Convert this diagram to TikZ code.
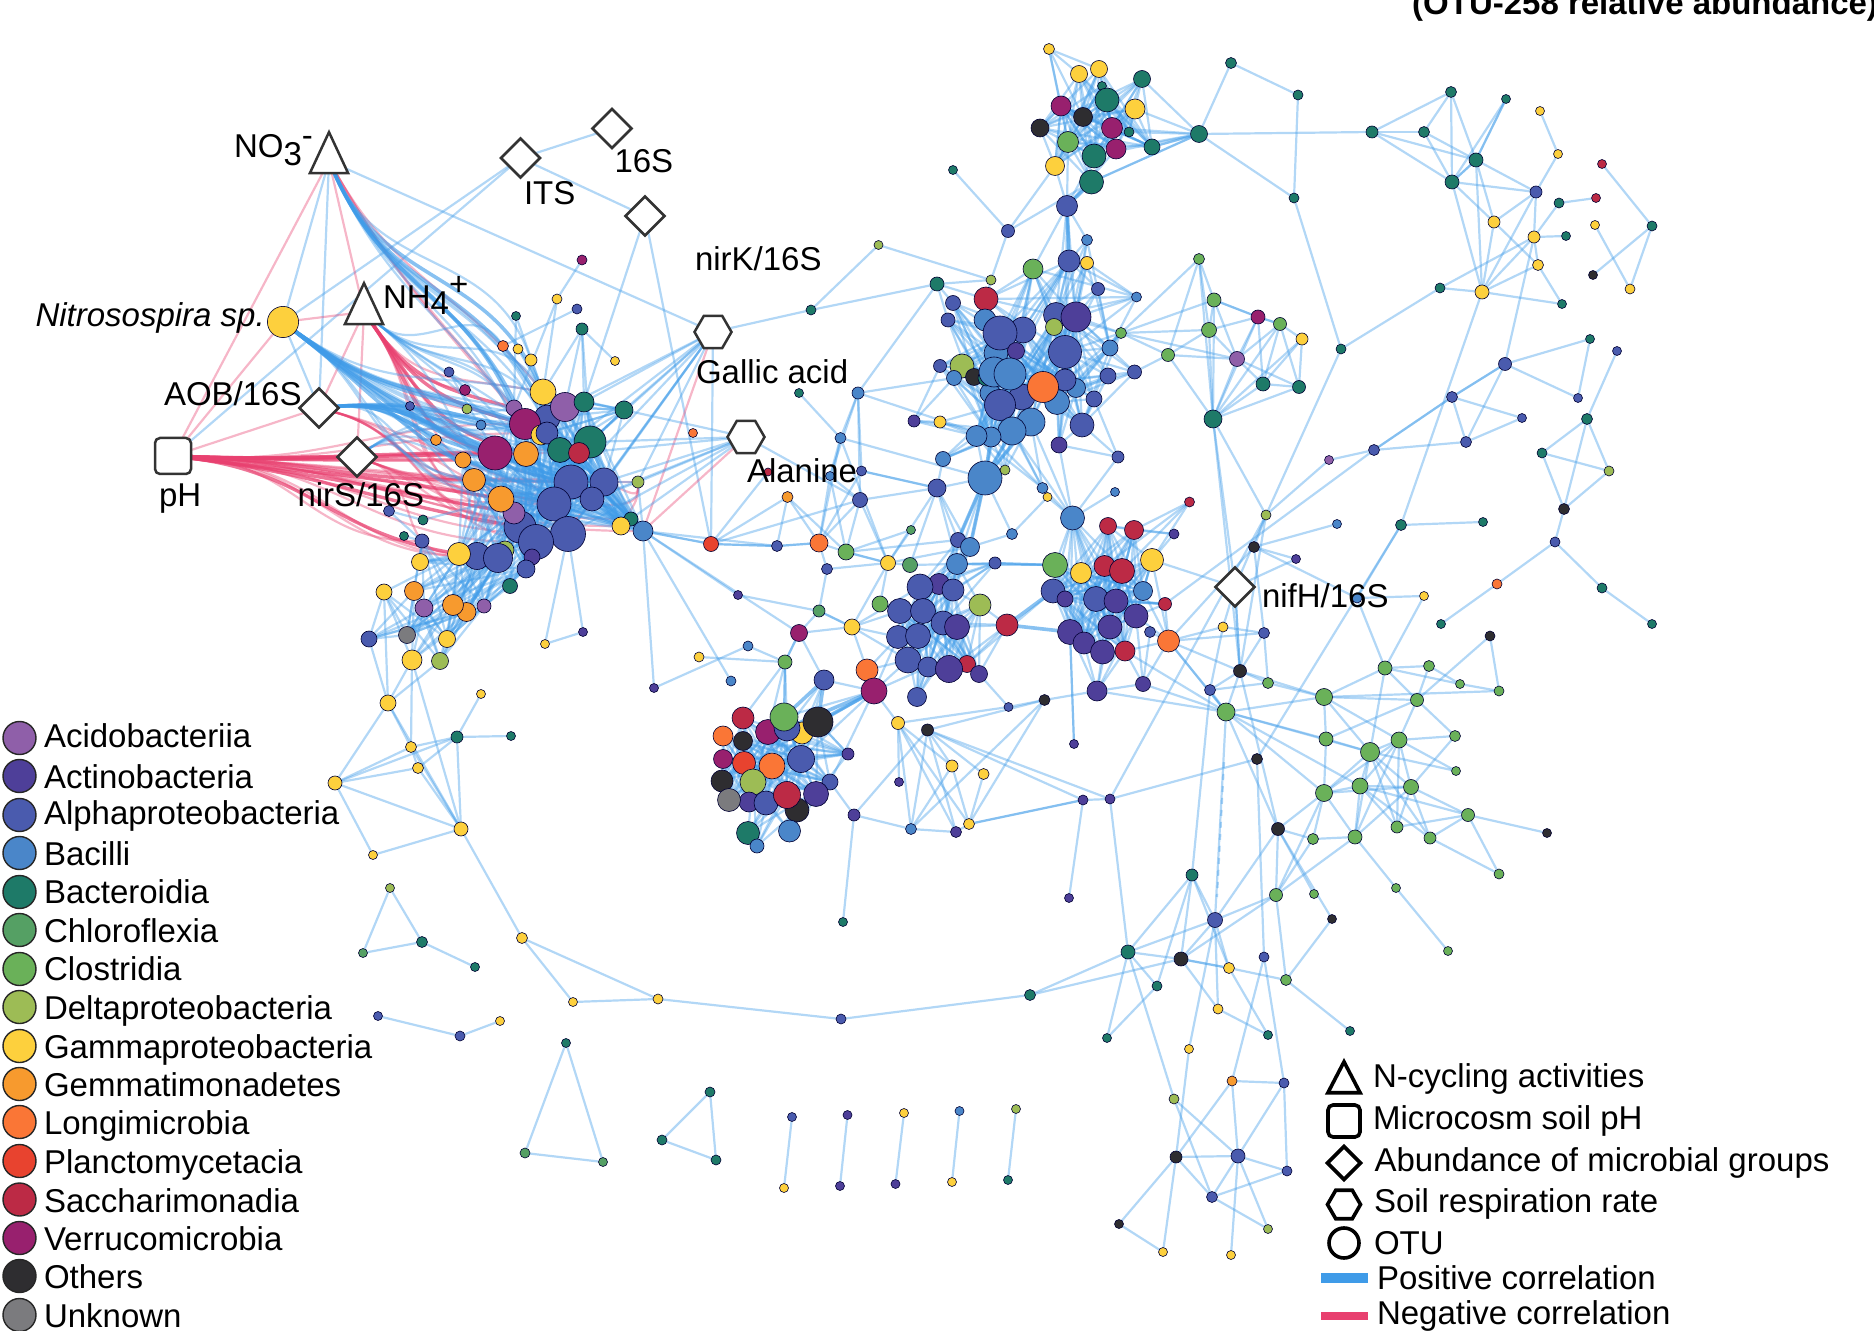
\documentclass[tikz,border=0pt]{standalone}
\usepackage{fontspec}
\setmainfont{Liberation Sans}
\usetikzlibrary{shapes.geometric,backgrounds}
\definecolor{cAc}{HTML}{8F5FA9}\definecolor{cAt}{HTML}{4E3F99}\definecolor{cAl}{HTML}{4A5BAE}
\definecolor{cBa}{HTML}{4A86C9}\definecolor{cBd}{HTML}{1E7A68}\definecolor{cCh}{HTML}{55A064}
\definecolor{cCl}{HTML}{6AB159}\definecolor{cDe}{HTML}{9DBC55}\definecolor{cGa}{HTML}{FDD03D}
\definecolor{cGe}{HTML}{F79A2E}\definecolor{cLo}{HTML}{FA7636}\definecolor{cPl}{HTML}{E8432F}
\definecolor{cSa}{HTML}{BC2A45}\definecolor{cVe}{HTML}{98206E}\definecolor{cOt}{HTML}{2E2D30}
\definecolor{cUn}{HTML}{7B7B7E}\definecolor{edgeP}{HTML}{3F9BE8}\definecolor{edgeN}{HTML}{E8406F}
\definecolor{dk}{HTML}{333333}
\tikzset{
 otu/.style={circle,draw=black!80!blue,line width=.3pt,inner sep=0pt,outer sep=0pt},
 ePos/.style={draw=edgeP,opacity=.4,line width=1.1pt},
 ePosT/.style={draw=edgeP,opacity=.62,line width=1.8pt},
 eNeg/.style={draw=edgeN,opacity=.38,line width=1.1pt},
 eNegT/.style={draw=edgeN,opacity=.72,line width=1.7pt},
 txt/.style={inner sep=0pt,outer sep=0pt,anchor=base west,font=\fontsize{16.5}{18}\selectfont},
 fac/.style={draw=dk,line width=1.25pt,fill=white,inner sep=0pt,outer sep=0pt},
 tria/.style={fac,isosceles triangle,isosceles triangle apex angle=50,shape border rotate=90,minimum height=20.5pt},
 dia/.style={fac,diamond,aspect=1,minimum size=19.5pt},
 hexa/.style={fac,regular polygon,regular polygon sides=6,minimum size=18.5pt},
 sqr/.style={fac,rectangle,rounded corners=2.5pt,minimum size=18pt},
 key/.style={line width=1.8pt,draw=black,fill=white,inner sep=0pt,outer sep=0pt},
 leg/.style={circle,draw=black!85,line width=.7pt,minimum size=16.5pt,inner sep=0pt},
}
\def\Nod#1#2#3#4#5{\node[otu,fill=c#5,minimum size=#4pt] (#1) at (#2,-#3) {};}
\def\Edg#1{\foreach \p/\q in {#1}{\draw[ePos] (\p)--(\q);}}
\def\Sta#1#2{\foreach \q in {#2}{\draw[ePos] (#1)--(\q);}}
\def\StT#1#2{\foreach \q in {#2}{\draw[ePosT] (#1)--(\q);}}
\def\Bip#1#2{\foreach \p in {#1}{\foreach \q in {#2}{\draw[ePos] (\p)--(\q);}}}
\def\Cur#1#2#3#4#5{\foreach \q in {#5}{\draw[#1] (#2) to[out=#3,in=#4,looseness=1.1] (\q);}}
\begin{document}
\begin{tikzpicture}[x=.5pt,y=.5pt]
\useasboundingbox (0,0) rectangle (1874,-1331);
% ---------- left cluster
\Nod{c1}{582}{260}{5}{Ve}\Nod{c2}{557}{299}{5}{Ga}\Nod{c3}{577}{309}{5}{Al}\Nod{c4}{516}{316}{4.5}{Bd}\Nod{c5}{582}{329}{6}{Bd}
\Nod{c6}{449}{372}{5}{Al}\Nod{c7}{410}{406}{4.5}{Al}\Nod{c8}{436}{440}{5.5}{Ge}\Nod{c9}{693}{433}{4.5}{Lo}\Nod{c10}{545}{644}{4.5}{Ga}\Nod{c11}{583}{632}{4.5}{At}
\Nod{a1}{503}{346}{5.5}{Lo}\Nod{a2}{518}{349}{5}{Ga}\Nod{a3}{531}{360}{6}{Ga}\Nod{a4}{615}{361}{4.5}{Ga}
\Nod{a5}{543}{392}{13}{Ga}\Nod{a6}{514}{408}{8}{Ac}\Nod{a7}{547}{418}{13}{Al}\Nod{a8}{565}{407}{14.5}{Ac}\Nod{a9}{584}{402}{10}{Bd}\Nod{a10}{624}{410}{9}{Bd}
\Nod{a11}{465}{390}{5.5}{Ve}\Nod{a12}{467}{409}{5}{De}\Nod{a13}{481}{425}{5}{Ba}\Nod{a14}{525}{424}{15.5}{Ve}
\Nod{a15}{541}{435}{10}{Ga}\Nod{a16}{547}{433}{11}{Al}\Nod{a17}{590}{442}{16}{Bd}\Nod{a18}{560}{450}{12.5}{Bd}\Nod{a19}{579}{453}{10.5}{Sa}
\Nod{a20}{526}{454}{12.5}{Ge}\Nod{a21}{495}{453}{17}{Ve}\Nod{a22}{463}{460}{8}{Ge}\Nod{a23}{474}{480}{11.5}{Ge}
\Nod{a30}{520}{527}{16}{Al}\Nod{a24}{514}{513}{11}{Ac}\Nod{a25}{501}{499}{13}{Ge}
\Nod{a26}{571}{482}{17}{Al}\Nod{a27}{604}{482}{14}{Al}\Nod{a28}{592}{499}{12}{Al}\Nod{a29}{554}{504}{17}{Al}
\Nod{a31}{568}{534}{17.5}{Al}\Nod{a32}{536}{542}{17.5}{Al}\Nod{a33}{638}{482}{6}{De}\Nod{a34}{631}{519}{7}{Bd}\Nod{a35}{621}{526}{9}{Ga}\Nod{a36}{643}{531}{10}{Ba}
\Nod{b22}{389}{511}{5.5}{Al}\Nod{b21}{423}{520}{5}{Bd}\Nod{b20}{404}{536}{4.5}{Bd}\Nod{b19}{422}{541}{7}{Al}\Nod{b23}{420}{562}{8.5}{Ga}
\Nod{b2}{477}{556}{13.5}{Al}\Nod{b1}{459}{554}{11.5}{Ga}\Nod{b3}{505}{550}{9}{De}\Nod{b4}{532}{557}{8}{At}\Nod{b5}{498}{558}{14.5}{Al}\Nod{b6}{526}{569}{9}{Al}\Nod{b7}{510}{586}{7.5}{Bd}
\Nod{b8}{384}{592}{8}{Ga}\Nod{b9}{414}{591}{9.5}{Ge}\Nod{b10}{424}{608}{9}{Ac}\Nod{b11}{466.5}{612}{9.5}{Ge}\Nod{b12}{453}{605}{10.5}{Ge}\Nod{b13}{484}{606}{7}{Ac}
\Nod{b14}{369}{639}{8}{Al}\Nod{b15}{407}{635}{8.5}{Un}\Nod{b16}{447}{639}{8.5}{Ga}\Nod{b17}{412}{660}{10}{Ga}\Nod{b18}{440}{661}{8.5}{De}
% ---------- lower left pieces
\Nod{e1}{388}{703}{8}{Ga}\Nod{e2}{481}{694}{4.5}{Ga}\Nod{e3}{457}{737}{6}{Bd}\Nod{e4}{511}{736}{4.5}{Bd}\Nod{e5}{411}{747}{5.5}{Ga}\Nod{e6}{418}{768}{5.5}{Ga}
\Nod{e7}{335}{783}{7}{Ga}\Nod{e8}{461}{829}{7}{Ga}\Nod{e9}{373}{855}{4.5}{Ga}\Nod{e10}{390}{888}{4.5}{De}\Nod{e11}{363}{953}{4.5}{Ch}\Nod{e12}{422}{942}{5.5}{Bd}\Nod{e13}{475}{967}{4.5}{Bd}
\Nod{e14}{522}{938}{5.5}{Ga}\Nod{e15}{573}{1002}{4.5}{Ga}\Nod{e16}{658}{999}{5}{Ga}\Nod{e17}{841}{1019}{5}{Al}\Nod{e18}{1030}{995}{5.5}{Bd}
\Nod{e19}{378}{1016}{4.5}{Al}\Nod{e20}{460}{1036}{5}{Al}\Nod{e21}{500}{1021}{4.5}{Ga}
\Nod{e22}{566}{1043}{4.5}{Bd}\Nod{e23}{525}{1153}{5}{Ch}\Nod{e24}{603}{1162}{4.5}{Ch}\Nod{e25}{710}{1092}{5}{Bd}\Nod{e26}{662}{1140}{5}{Bd}\Nod{e27}{716}{1160}{5}{Bd}
\Nod{pa1}{792}{1117}{4.5}{Al}\Nod{pa2}{784}{1188}{4.5}{Ga}\Nod{pb1}{847.5}{1115}{4.5}{At}\Nod{pb2}{840}{1186}{4.5}{At}\Nod{pc1}{904}{1113}{4.5}{Ga}\Nod{pc2}{895.5}{1184}{4.5}{At}
\Nod{pd1}{959.5}{1111}{4.5}{Ba}\Nod{pd2}{952}{1182}{4.5}{Ga}\Nod{pe1}{1016}{1109}{4.5}{De}\Nod{pe2}{1008}{1180}{4.5}{Bd}
% ---------- top cluster
\Nod{d1}{1049}{49}{5.5}{Ga}\Nod{d2}{1079}{74}{8.5}{Ga}\Nod{d3}{1099}{69}{8.5}{Ga}\Nod{d4}{1142}{79}{8.5}{Bd}\Nod{d5}{1102}{86}{4.5}{Bd}\Nod{d6}{1107}{100}{12}{Bd}
\Nod{d7}{1135}{109}{10}{Ga}\Nod{d8}{1061}{106}{10}{Ve}\Nod{d9}{1083}{117}{9.5}{Ot}\Nod{d10}{1040}{128}{9}{Ot}\Nod{d11}{1112}{128}{10.5}{Ve}\Nod{d12}{1129}{132}{5}{Bd}
\Nod{d13}{1068}{142}{10.5}{Cl}\Nod{d14}{1199}{134}{8.5}{Bd}\Nod{d15}{1152}{147}{8}{Bd}\Nod{d16}{1116}{149}{10}{Ve}\Nod{d17}{1094}{156}{12}{Bd}\Nod{d18}{1055}{166}{9.5}{Ga}\Nod{d19}{1091.5}{182}{12}{Bd}\Nod{d20}{1067}{206}{10.5}{Al}
% ---------- blue cluster
\Nod{j1}{878.5}{245}{4.5}{De}\Nod{j2}{991}{280}{5}{De}\Nod{j3}{937}{284}{7}{Bd}\Nod{j4}{811}{310}{5}{Bd}\Nod{j5}{953}{170}{4.5}{Bd}\Nod{j6}{1008}{231}{6.5}{Al}\Nod{j7}{1087}{240}{5.5}{Ba}
\Nod{j8}{1069}{261}{11}{Al}\Nod{j9}{1087}{263}{6.5}{Ga}\Nod{j10}{1033}{269}{10}{Cl}\Nod{j11}{1098}{289}{6.5}{Al}\Nod{j12}{986}{299}{12}{Sa}\Nod{j13}{953}{303}{7.5}{Al}\Nod{j14}{1136.5}{297}{5}{Ba}\Nod{j15}{948}{320}{7}{Al}
\Nod{j44}{990}{393}{10}{Ba}\Nod{j16}{985}{320}{11}{Ba}\Nod{j24}{996}{353}{12}{Ba}\Nod{j17}{1056}{315}{12.5}{Al}\Nod{j18}{1076}{317}{15}{At}\Nod{j21}{1054}{327}{8.5}{De}\Nod{j20}{1023}{330}{13}{Al}\Nod{j19}{1000}{333}{17}{Al}\Nod{j22}{1016}{351}{8.5}{At}\Nod{j23}{1065}{352}{16.5}{Al}
\Nod{j25}{1110}{348}{8}{Ba}\Nod{j26}{1121}{333}{5.5}{Cl}\Nod{j27}{1168}{355}{6.5}{Cl}\Nod{j28}{962}{366}{12}{De}\Nod{j29}{940}{366}{6.5}{Al}\Nod{j30}{954}{378}{7.5}{Ba}\Nod{j31}{974}{377}{8.5}{Ot}\Nod{j32}{986}{378}{8}{Bd}
\Nod{j36}{1076}{388}{9.5}{Ba}\Nod{j35}{1065}{380}{11}{Al}\Nod{j43}{1057}{402}{12.5}{Ba}\Nod{j42}{1022}{397}{13}{Al}\Nod{j33}{994}{372}{15}{Ba}\Nod{j34}{1010}{374}{16}{Ba}\Nod{j37}{1108}{376}{8}{Al}\Nod{j38}{1134.5}{372}{7}{Al}\Nod{j40}{1094}{399}{8}{Al}\Nod{j41}{1000}{405}{15.5}{Al}\Nod{j39}{1043}{387}{15.5}{Lo}
\Nod{j45}{1031}{422}{14}{Ba}\Nod{j46}{1012}{431}{14}{Ba}\Nod{j47}{991}{437}{10}{Ba}\Nod{j48}{976.5}{436}{10.5}{Ba}\Nod{j49}{1082}{425}{12}{Al}\Nod{j50}{1059}{445}{8}{At}\Nod{j51}{914}{421}{6}{At}\Nod{j52}{940}{422}{6}{Ga}
\Nod{j53}{799}{393}{4.5}{Bd}\Nod{j54}{858}{393}{6}{Ba}\Nod{j55}{840.5}{438}{5.5}{Ba}\Nod{j56}{1118}{457}{6}{Al}\Nod{j57}{943}{459}{7.5}{Ba}\Nod{j58}{985}{478}{17}{Ba}\Nod{j59}{1005}{470}{5}{De}\Nod{j60}{1042.5}{488}{5.5}{Ba}\Nod{j61}{1047.5}{497}{4.5}{Ga}\Nod{j62}{1115}{492}{4.5}{Ba}
% ---------- green upper cluster
\Nod{p1}{1199}{259}{5.5}{Cl}\Nod{p2}{1214}{300}{7}{Cl}\Nod{p3}{1258}{317}{7}{Ve}\Nod{p4}{1280}{324}{6.5}{Cl}\Nod{p5}{1302}{339}{6}{Ga}\Nod{p6}{1209}{330}{7.5}{Cl}\Nod{p7}{1237}{359}{7.5}{Ac}\Nod{p8}{1263}{384}{7}{Bd}\Nod{p9}{1299}{387}{6.5}{Bd}\Nod{p10}{1213}{419}{9}{Bd}
% ---------- top right
\Nod{y1}{1231}{63}{5.5}{Bd}\Nod{y2}{1298}{95}{5}{Bd}\Nod{y3}{1294}{198}{5}{Bd}\Nod{y4}{1341}{349}{5}{Bd}
\Nod{f1}{1372}{132}{6}{Bd}\Nod{f2}{1424}{132}{5.5}{Bd}\Nod{f3}{1451}{92}{5.5}{Bd}\Nod{f4}{1506}{99}{4.5}{Bd}\Nod{f5}{1540}{111}{4.5}{Ga}\Nod{f6}{1558}{154}{4.5}{Ga}\Nod{f7}{1476}{160}{7}{Bd}\Nod{f8}{1602}{164}{4.5}{Sa}\Nod{f9}{1452}{182}{7}{Bd}\Nod{f10}{1536}{192}{6}{Al}
\Nod{f11}{1559}{203}{5}{Bd}\Nod{f12}{1596}{198}{4.5}{Sa}\Nod{f13}{1494}{222}{6}{Ga}\Nod{f14}{1534}{237}{6}{Ga}\Nod{f15}{1566}{236}{4.5}{Bd}\Nod{f16}{1595}{225}{4.5}{Ga}\Nod{f17}{1652}{226}{5}{Bd}\Nod{f18}{1538}{265}{5.5}{Ga}\Nod{f19}{1593}{275}{4.5}{Ot}\Nod{f20}{1440}{288}{5}{Bd}\Nod{f21}{1482}{292}{7}{Ga}\Nod{f22}{1630}{289}{5}{Ga}\Nod{f23}{1562}{304}{4.5}{Bd}
\Nod{g1}{1590}{339}{4.5}{Bd}\Nod{g2}{1617}{351}{4.5}{Al}\Nod{g3}{1505}{364}{6.5}{Al}\Nod{g4}{1578}{398}{4.5}{Al}\Nod{g5}{1452}{397}{5.5}{Al}\Nod{g6}{1522}{418}{4.5}{Al}\Nod{g7}{1466}{442}{5.5}{Al}\Nod{g8}{1587}{419}{5.5}{Bd}\Nod{g9}{1542}{453}{5}{Bd}\Nod{g10}{1374}{450}{5.5}{Al}\Nod{g11}{1329}{460}{4.5}{Ac}\Nod{g12}{1609}{471}{5}{De}\Nod{g13}{1266}{515}{5}{De}\Nod{g14}{1564}{509}{5.5}{Ot}
\Nod{g15}{1401}{525}{5.5}{Bd}\Nod{g16}{1483}{522}{4.5}{Bd}\Nod{g17}{1337}{524}{4.5}{Ba}\Nod{g18}{1254}{547}{5.5}{Ot}\Nod{g19}{1296}{559}{4.5}{At}\Nod{g20}{1555}{542}{5}{Al}\Nod{g21}{1497}{584}{5}{Lo}\Nod{g22}{1602}{588}{5}{Bd}\Nod{g23}{1424}{596}{4.5}{Ga}\Nod{g24}{1441}{624}{4.5}{Bd}\Nod{g25}{1652}{624}{4.5}{Bd}\Nod{g26}{1490}{636}{5}{Ot}\Nod{m}{1357}{598}{5}{Ba}
% ---------- green lower cluster
\Nod{h1}{1385}{668}{7}{Cl}\Nod{h2}{1429}{666}{5.5}{Cl}\Nod{h3}{1268}{683}{5.5}{Cl}\Nod{h4}{1460}{684}{4.5}{Cl}\Nod{h5}{1499}{691}{5}{Cl}\Nod{h6}{1324}{697}{8.5}{Cl}\Nod{h7}{1417}{700}{6.5}{Cl}\Nod{h8}{1226}{712}{9}{Cl}\Nod{h9}{1326}{739}{7}{Cl}\Nod{h10}{1399}{740}{8}{Cl}\Nod{h11}{1370}{752}{9.5}{Cl}\Nod{h12}{1455}{736}{5.5}{Cl}\Nod{h13}{1456}{771}{4.5}{Cl}\Nod{h14}{1324}{793}{8.5}{Cl}\Nod{h15}{1360}{786}{8}{Cl}\Nod{h16}{1411}{787}{7.5}{Cl}\Nod{h17}{1468}{815}{6.5}{Cl}\Nod{h18}{1397}{827}{6}{Cl}\Nod{h19}{1278}{829}{6.5}{Ot}\Nod{h20}{1313}{839}{5.5}{Cl}\Nod{h21}{1355}{837}{7}{Cl}\Nod{h22}{1430}{838}{6}{Cl}\Nod{h23}{1547}{833}{4.5}{Ot}\Nod{h24}{1499}{874}{5}{Cl}\Nod{h25}{1396}{888}{4.5}{Cl}\Nod{h26}{1448}{951}{4.5}{Cl}
\Nod{z1}{1223}{627}{5}{Ga}\Nod{z2}{1264}{633}{5.5}{Al}\Nod{z3}{1240}{671}{6.5}{Ot}\Nod{z4}{1210}{690}{5.5}{Al}\Nod{z5}{1257}{759}{5.5}{Ot}
% ---------- bottom nest
\Nod{i1}{1192}{875}{6}{Bd}\Nod{i2}{1069}{898}{4.5}{At}\Nod{i3}{1215}{920}{7.5}{Al}\Nod{i4}{1276}{895}{6.5}{Cl}\Nod{i5}{1314}{894}{4.5}{Cl}\Nod{i6}{1332}{919}{4.5}{Ot}\Nod{i7}{1128}{952}{7}{Bd}\Nod{i8}{1181}{959}{7}{Ot}\Nod{i9}{1229}{968}{5.5}{Ga}\Nod{i10}{1264}{957}{5}{Al}\Nod{i11}{1286}{980}{5.5}{Cl}\Nod{i12}{1157}{986}{5}{Bd}\Nod{i13}{1218}{1009}{5}{Ga}\Nod{i14}{1268}{1035}{4.5}{Bd}\Nod{i15}{1350}{1031}{4.5}{Bd}\Nod{i16}{1107}{1038}{4.5}{Bd}\Nod{i17}{1189}{1049}{4.5}{Ga}\Nod{i18}{1232}{1081}{5}{Ge}\Nod{i19}{1284}{1083}{5}{Al}\Nod{i20}{1174}{1099}{5}{De}\Nod{i21}{1176}{1157}{6}{Ot}\Nod{i22}{1238}{1156}{7}{Al}\Nod{i23}{1287}{1171}{5}{Al}\Nod{i24}{1212}{1197}{5.5}{Al}\Nod{i25}{1119}{1224}{4.5}{Ot}\Nod{i26}{1268}{1229}{4.5}{De}\Nod{i27}{1163}{1252}{4.5}{Ga}\Nod{i28}{1231}{1255}{4.5}{Ga}
% ---------- cluster C
\Nod{l1}{1072.5}{518}{12}{Ba}\Nod{l2}{1108}{526}{8.5}{Sa}\Nod{l3}{1134}{530}{9.5}{Sa}\Nod{l4}{1174}{534}{5}{At}\Nod{l5}{1189.5}{502}{5}{Sa}\Nod{l6}{1055}{565}{12.5}{Cl}\Nod{l11}{1053}{591}{12}{Al}\Nod{l12}{1065}{599}{8}{At}\Nod{l7}{1081}{573}{10.5}{Ga}\Nod{l8}{1104.5}{566}{10.5}{Sa}\Nod{l9}{1122}{571}{12.5}{Sa}\Nod{l10}{1152}{560}{11.5}{Ga}\Nod{l13}{1143}{591}{9.5}{Ba}\Nod{l14}{1096}{599}{12.5}{Al}\Nod{l15}{1116}{601}{12}{At}\Nod{l16}{1136}{616}{12}{At}\Nod{l17}{1165}{604}{6.5}{Sa}\Nod{l18}{1070}{632}{12.5}{At}\Nod{l19}{1084}{643}{11}{At}\Nod{l20}{1110}{627}{12}{At}\Nod{l22}{1125}{651}{10}{Sa}\Nod{l21}{1102.5}{652}{12}{At}\Nod{l23}{1150}{632}{5.5}{Al}\Nod{l24}{1168.5}{641}{11}{Lo}\Nod{l25}{1097}{691}{10}{At}\Nod{l26}{1143}{684}{7.5}{At}
% ---------- cluster U/K
\Nod{u1}{958}{540}{7.5}{Al}\Nod{u2}{970}{547}{9.5}{Ba}\Nod{u3}{957}{564}{10.5}{Ba}\Nod{u4}{995}{563}{6}{Al}\Nod{u5}{1012}{534}{5.5}{Ba}
\Nod{k2}{939}{584}{10.5}{At}\Nod{k1}{920}{587}{13}{Al}\Nod{k3}{953}{590}{11}{Al}\Nod{k4}{980}{605}{11}{De}\Nod{k5}{880}{604}{8}{Cl}\Nod{k6}{900}{611}{12.5}{Al}\Nod{k7}{923}{611}{12.5}{Al}\Nod{k8}{943}{623}{12}{Al}\Nod{k9}{957}{627}{12.5}{At}\Nod{k10}{1007}{625}{11}{Sa}\Nod{k11}{898}{637}{11.5}{Al}\Nod{k12}{918}{636}{12.5}{Al}\Nod{k13}{908}{660}{13}{Al}\Nod{k14}{928}{667}{10}{Al}\Nod{k15}{967}{664}{8.5}{Sa}\Nod{k16}{949}{669}{13.5}{At}\Nod{k17}{979}{674}{8.5}{At}\Nod{k18}{917}{697}{9.5}{Al}
% ---------- mid
\Nod{t1}{787.5}{497}{5.5}{Ge}\Nod{t2}{711}{544}{7.5}{Pl}\Nod{t3}{777}{546}{5.5}{Al}\Nod{t4}{819}{543}{9}{Lo}\Nod{t5}{846}{552}{8}{Cl}\Nod{t6}{860}{500}{7.5}{Al}\Nod{t7}{861.5}{471}{5}{Al}\Nod{t8}{830}{476}{4.5}{Ba}\Nod{t9}{768}{472}{4}{Sa}\Nod{t10}{937}{488}{9}{Al}\Nod{t11}{911}{530}{4.5}{Ch}\Nod{t12}{888}{563}{7.5}{Ga}\Nod{t13}{910}{565}{7.5}{Ch}\Nod{t14}{827}{569}{5.5}{Al}\Nod{t15}{738}{595}{4.5}{At}\Nod{t16}{819}{611}{6}{Ch}\Nod{t17}{852}{627}{8}{Ga}\Nod{t18}{799}{633}{8.5}{Ve}\Nod{t19}{699}{657}{5}{Ga}\Nod{t20}{748}{646}{5}{Ba}\Nod{t21}{785}{662}{7}{Cl}\Nod{t22}{654}{688}{4.5}{At}\Nod{t23}{731}{681}{5}{Ba}\Nod{t24}{824}{680}{10}{Al}\Nod{t25}{867}{670}{11}{Lo}\Nod{t26}{874}{691}{13}{Ve}
% ---------- cluster D
\Nod{q22}{797}{810}{12}{Ot}\Nod{q1}{743}{718}{11}{Sa}\Nod{q6}{768}{732}{12.5}{Ve}\Nod{q5}{802}{733}{11}{Ga}\Nod{q2}{787}{728}{13}{Al}\Nod{q3}{784}{717}{14}{Cl}\Nod{q4}{818}{722}{15}{Ot}\Nod{q7}{723}{736}{10}{Lo}\Nod{q8}{743}{741}{9.5}{Ot}\Nod{q9}{723}{759}{9.5}{Ve}\Nod{q12}{801}{759}{13.5}{Al}\Nod{q10}{744}{763}{11.5}{Pl}\Nod{q11}{772}{766}{13}{Lo}\Nod{q13}{848}{754}{6}{At}\Nod{q14}{830}{782}{8}{Al}\Nod{q15}{722}{781}{11}{Ot}\Nod{q16}{753}{782}{13}{De}\Nod{q18}{749}{802}{10}{At}\Nod{q17}{729}{800}{11.5}{Un}\Nod{q19}{766}{803}{12}{Al}\Nod{q21}{816}{794}{12.5}{At}\Nod{q20}{787}{795}{13.5}{Sa}\Nod{q23}{748}{833}{11.5}{Bd}\Nod{q25}{757}{846}{7}{Ba}\Nod{q24}{789.5}{831}{11}{Ba}
% ---------- bottom middle
\Nod{r1}{898}{723}{6.5}{Ga}\Nod{r2}{927.5}{730}{6}{Ot}\Nod{r3}{1008.5}{707}{4.5}{Al}\Nod{r4}{1044.5}{700}{5.5}{Ot}\Nod{r5}{1074}{744}{4.5}{At}\Nod{r6}{899}{782}{4.5}{At}\Nod{r7}{952}{766}{6}{Ga}\Nod{r8}{983.6}{774}{5.5}{Ga}\Nod{r9}{1083}{800}{5}{At}\Nod{r10}{1110}{799}{5}{At}\Nod{r11}{854}{815}{6}{At}\Nod{r12}{911}{829}{5.5}{Ba}\Nod{r13}{956}{832}{5.5}{At}\Nod{r14}{969}{824}{5.5}{Ga}\Nod{r16}{843}{922}{4.5}{Bd}
% ---------- factors
\node[tria] (no3) at (329,-161) {};
\node[tria] (nh4) at (364,-312) {};
\Nod{nit}{283}{322}{15.6}{Ga}
\node[dia] (aob) at (319,-408) {};
\node[dia] (nirS) at (357,-457) {};
\node[dia] (its) at (520.5,-158) {};
\node[dia] (s16) at (612,-128.5) {};
\node[dia] (nirK) at (645,-216) {};
\node[dia] (nifH) at (1235,-587) {};
\node[hexa] (gal) at (713,-332) {};
\node[hexa] (ala) at (746,-437) {};
\node[sqr] (pH) at (173,-456) {};
\coordinate (dashA) at (1224,-762);\coordinate (dashB) at (1217,-897);
% ---------- edges
\begin{scope}[on background layer]
% factors: thin
\Edg{no3/nit,no3/aob,nit/aob,its/s16,its/nirK,its/nit,no3/gal,nirK/a9,nirK/t2,pH/its}
\foreach \p/\q in {pH/no3,pH/nit,pH/aob,no3/nh4,nit/nh4,nh4/aob,nh4/nirS,gal/a36,ala/a36}{\draw[eNeg](\p)--(\q);}
\Cur{eNegT}{pH}{-2}{180}{a21,a20,a22,a23,nirS}
\Cur{eNegT}{pH}{-7}{170}{a25,a24,a30,b1}
\Cur{eNeg}{pH}{-3}{180}{a14,a16,a18,a26,a28,a29,a31,a32,a27,a19,a33,a34,a35,b2,b5,a36,b19}
\Cur{eNegT}{nh4}{-55}{165}{a21,a6,a14,a20}
\Cur{eNeg}{nh4}{-55}{170}{a11,a12,a25,a24,a26,a29,a5}
\Cur{eNeg}{no3}{-60}{130}{a6,a14,a5}
\Cur{eNeg}{nirS}{-20}{175}{a29,a28,a26,a30,a31,b1}
\Cur{eNeg}{aob}{-15}{170}{a23,a25,a29,a30,a32,a28}
\Cur{eNeg}{a33}{-90}{60}{a31,a35,a28}
\Cur{ePosT}{nit}{-38}{160}{a21,a20,a14,a16,a26,a29}
\Cur{ePos}{nit}{-35}{170}{a5,a6,a7,a18,a27,a28,a13,a23,a25,a15,a17}
\Cur{ePosT}{aob}{5}{170}{a21,a20,a16,a26,a29}
\Cur{ePos}{aob}{5}{175}{a18,a15,a28,a27,a31,a17,a13,a23,a14}
\Cur{ePosT}{no3}{-66}{115}{a5,a6,a14,a7}
\Cur{ePos}{no3}{-66}{110}{a16,a18,a26,a29,a3,a20}
\Cur{ePos}{nh4}{-40}{125}{a5,a6,a14,a7,a20,a26,a29,a25,a1}
\Cur{ePos}{nirS}{35}{190}{a21,a14,a6,a20,a23}
\Sta{gal}{a8,a9,a10,a17,a18,a27,a28,a26,a31,a33,j4,t2}
\Sta{ala}{a27,a28,a17,a31,a19,a33,a10,a35,t6}
\Sta{a5}{c2,c4,c5,a1,a2,a3}
\Edg{c1/c2,c3/a1,a4/c5,c5/a8,c5/a9,c5/a17,c2/a6,c4/a6,a10/a17,a10/a9,a10/a8,a10/a27,a33/a27,a33/a28,a33/a36,a36/a34,a31/c10,a31/c11,c10/c11,c6/a21,c6/a11,c7/a21,c8/a22,b22/b21,b22/b19,b20/b19,b21/a25}
\Bip{a14,a20,a21,a22,a23,a25,a24,a6}{a26,a27,a28,a29,a30,a31,a32,a34,a35,a36,b1,b2,b5,b6}
\Bip{a5,a7,a8,a9,a15,a16,a17,a18,a19}{a26,a27,a28,a29,a30,a31,a32,a34,a35,a36,a10}
\Bip{a26,a27,a28,a29}{a30,a31,a32,a34,a35,a36,b5,b6,a21,a14}
\Bip{b1,b2,b3,b5,b6,b19}{b9,b10,b12,b11,b13,b15,b16,b23}
\Bip{b8,b9,b10,b12,b11,b13}{b14,b15,b16,b17,b18}
\Bip{a30,a32,a24}{b1,b2,b5,b6,b7,b11,b12,b13}
\Edg{b4/b6,b7/b5,b7/b13,b17/b2,b18/b2,b18/b5,b8/b1,b14/b15}
% lower left
\Edg{b17/e1,b18/e1,b17/e5,b17/e8,b14/e1,b8/e1,e1/e5,e1/e7,e1/e8,e5/e3,e6/e3,e3/e2,e3/e4,e3/e8,e5/e8,e6/e8,e6/e5,e7/e5,e7/e6,e7/e3,e7/e8,e7/e9,e9/e8,e8/e14,e14/e15,e14/e16,e15/e16,e16/e17,e17/e18,e10/e11,e11/e12,e12/e10,e12/e13,e19/e20,e20/e21,e22/e23,e23/e24,e24/e22,e25/e26,e26/e27,e27/e25,pa1/pa2,pb1/pb2,pc1/pc2,pd1/pd2,pe1/pe2,e18/i7,e18/i8}
% top
\Sta{d1}{d2,d3,d8,d13,d9}
\Bip{d2,d3,d4,d5,d6,d7,d8}{d9,d10,d11,d12,d13,d15,d16,d17,d18}
\Sta{d14}{d4,d7,d11,d12,d15,d15,d16,d17,d19,d19,y1,y3,f1}
\Bip{d8,d9,d10,d11,d13}{d15,d16,d17,d18,d19}
\Sta{d20}{d13,d17,d18,d19,d16,j7,j8,j10,j17,j18,j23}
\StT{d20}{d19,j8}
\Edg{j6/d18,j6/d19,j5/j6,j6/j2,y1/y2,y2/y3,y3/y4,y4/f20,f20/f14,f20/f21,y4/g13}
% blue cluster
\Edg{j1/j2,j1/j4,j3/j2,j3/j4,j3/j54,j3/j13,j3/j15,j3/j12,j2/j12,j54/t6,j53/j55,j55/t8,j55/t4,j54/t8,j54/t7,j55/j58,j55/t12,j55/j54,j51/j52}
\Bip{j17,j18,j19,j20,j21,j22,j23,j24,j33,j34}{j35,j36,j41,j42,j43,j45,j46,j47,j48,j49,j8,j10}
\Bip{j13,j15,j28,j29,j30,j12}{j19,j20,j24,j33,j34,j41,j46,j47}
\Bip{j7,j9,j11,j14}{j17,j18,j8,j23,j25}
\Bip{j25,j26,j37,j38,j40,j50}{j18,j23,j35,j36,j43,j49,j17}
\Bip{j58,j57,j59,j60}{j45,j46,j47,j48,j41}
\StT{j58}{j46,j47,j45}
\Sta{j51}{j48,j30,j29,j46}
\Sta{j52}{j48,j47,j41}
\Sta{j56}{j49,j50,j40,l1}
\Sta{j14}{j9,j10,j12}
\Sta{j54}{j30,j47}
\Sta{j12}{j10,j8,j23,j17}
% p cluster
\Edg{p1/p2,p1/p6,p1/p10,p1/j26,p1/j27,p2/p3,p2/p3,p3/p4,p3/p4,p2/p6,p2/p7,p2/j26,p3/p6,p3/p7,p3/p8,p3/p10,p4/p5,p4/p7,p4/p8,p4/p9,p4/p10,p5/p9,p5/p10,p5/p8,p6/p7,p6/p10,p6/j26,p6/j27,p7/p8,p7/p9,p7/p10,p7/j27,p7/j26,p8/p9,p8/p10,p9/p10,p10/j27,p2/p10,j26/j27,j25/j26,j27/j38,p10/nifH,p10/z3,p10/g13}
% top right
\Edg{f1/f2,f1/f3,f1/f7,f1/f9,f2/f3,f2/f7,f2/f9,f3/f9,f3/f7,f4/f7,f4/f7,f4/f9,f7/f9,f7/f9,f7/f10,f9/f10,f5/f6,f6/f10,f10/f13,f10/f14,f10/f21,f11/f14,f11/f12,f14/f15,f14/f18,f14/f21,f13/f18,f13/f21,f13/f9,f13/f7,f7/f21,f9/f21,f18/f21,f18/f23,f21/f23,f8/f17,f16/f22,f17/f22,f17/f19,f21/g15,f14/g3}
\Edg{g3/g1,g3/g4,g3/g5,g3/g5,g3/g7,g5/g6,g5/g7,g7/g6,g5/g10,g5/g10,g10/g7,g10/g11,g10/l17,g1/g4,g2/g8,g8/g9,g8/g14,g8/g12,g9/g12,g9/g14,g12/g14,g14/g20,g20/g22,g20/g21,g21/g24,g22/g25,g15/g16,g15/m,g17/g18,g18/g19,g18/m,m/g23,m/h1,g23/h1,g11/g13,g13/g18,g13/z3,g19/nifH,g18/l24,z5/g15,g26/h5,g26/h7}
% h cluster
\Edg{h1/h2,h1/h4,h1/h6,h1/h7,h1/h11,h2/h7,h2/h4,h4/h5,h6/h5,h6/h7,h6/h8,h6/h9,h6/h10,h6/h11,h6/h3,h6/z3,h7/h9,h7/h10,h7/h12,h8/h9,h8/h11,h8/h14,h8/h15,h9/h11,h9/h14,h10/h11,h10/h12,h10/h14,h11/h13,h11/h14,h11/h15,h11/h16,h11/h18,h11/h22,h11/h21,h10/h15,h10/h18,h10/h21,h10/h16,h12/h16,h13/h10,h14/h15,h14/h16,h14/h20,h14/h21,h14/h19,h15/h16,h15/h18,h15/h21,h15/h22,h15/h17,h16/h17,h16/h18,h16/h22,h16/h21,h17/h18,h17/h22,h17/h23,h19/h20,h20/h21,h17/h24,h22/h24,h21/h25,h25/h26,h19/i4,h20/i4,h21/i4,h19/i5,h19/i6,h8/h19,z3/h19,h14/i4}
\Edg{z1/z2,z1/z4,z2/z3,z2/h3,z2/g18,z3/z4,z3/h3,z3/h8,z4/h8,z4/h3,nifH/z3,nifH/z3,nifH/z1,l24/h8,l24/h8,l24/z3,l24/z1,l24/z2,l26/h8,l25/h8,l22/h8,z5/r10,r9/r10,r9/i2,r10/i7,z5/i10,r10/g13}
\draw[ePos] (nifH)--(l10);\draw[ePos] (nifH)--(g13);
\draw[ePos,dashed] (dashA)--(dashB);\draw[ePos] (h8)--(i3);
% nest
\Edg{i1/i3,i1/i7,i1/i8,i1/i9,i1/i12,i3/i4,i3/i7,i3/i8,i3/i9,i3/i13,i3/i17,i4/i8,i7/i8,i7/i12,i7/i16,i7/i20,i8/i9,i8/i9,i8/i13,i9/i11,i9/i14,i12/i16,i13/i14,i10/i18,i10/i19,i11/i15,i11/i6,i17/i21,i18/i19,i18/i22,i18/i21,i19/i22,i19/i23,i20/i22,i20/i24,i21/i22,i21/i24,i21/i25,i21/i27,i22/i23,i22/i24,i22/i26,i22/i28,i23/i24,i24/i26,i25/i27,i4/i11,i1/z4,i3/h19}
% cluster C
\Bip{l1,l6,l7,l8,l9,l10,l2,l3}{l11,l12,l13,l14,l15,l16,l18,l19,l20,l21,l22}
\Bip{l11,l12,l14,l15,l20}{l16,l18,l19,l21,l22,l13,l17}
\Sta{l5}{l3,l9,l10,l8}
\Sta{l4}{l3,l10,l2}
\Sta{l2}{l3,l10}
\Sta{l24}{l13,l16,l17,l10,l22,l23,l26}
\Bip{l25}{l18,l19,l20,l21,l22,l16}
\Sta{l26}{l22,l16,l23,l25}
\Sta{l1}{j60,j61,j46,j45,l6,j62,j50}
\Sta{r5}{l18}
% U / K
\Edg{t10/j57,t10/j58,t10/u1,t10/u3,t10/u2,t10/t13,t12/t13,t12/t10,t12/u2,t12/t17,t12/t6,t6/t10,t7/t10,t7/t10,t5/t12,t5/t12,t5/t6,t5/t8,t4/t5,t4/t6,t4/t7,t4/t8,t4/t14,t2/t3,t2/t3,t2/t1,t2/t9,t2/t6,t3/t1,t3/t4,t3/t4,t4/t1,t1/t5,t8/t6,u1/u2,u2/u3,u5/u2,u5/j58,u5/j61,u3/l6,u3/l6,u4/l6,u4/l6,u4/u3,t13/u3,t5/u1,t14/t12,t11/t5,t11/t12,j58/u1,j58/u3,j58/u2}
\foreach \q in {u2,u1}{\draw[ePosT] (j58)--(\q);}
\Bip{u1,u2,u3,u4}{k1,k2,k3,k7,k8}
\Bip{k1,k2,k3,k6,k7,k8,k9,k4}{k11,k12,k13,k14,k15,k16,k17,k18}
\Bip{k10}{k4,k9,k8,k15,k17,k16}
\StT{k10}{l18,l11}
\Edg{k15/l11,k5/k6,k5/t12,k4/k3,k4/u3,t17/k6,t17/k11,t17/k1,t17/k13,t17/t16,t17/t25,t17/t18,t25/k11,t25/k13,t25/t26,t26/k13,t26/k14,t26/k11,t18/t16,t18/t21,t18/t21,t18/t24,t21/t20,t21/t19,t26/t24,t26/r1,t22/t20,a36/t15,a36/t2,a36/t2,a36/t3,a36/t18,a36/t23,a36/t22,t16/t14,t16/t17,t15/t16,k17/r3,r3/r4,r3/r1,r4/l25,r4/r2,r4/r14,r4/r12,r2/r7,r2/r10,r2/r9,r2/r11,r2/r8,r2/r13,r1/r6,r1/r7,r1/r13,r1/r14,r1/r12,r7/r14,r8/r14,r11/r12,r12/r13,r13/r14,r14/r9,r14/r9,r11/q14,r11/r16,r12/r2,r12/r7,l18/r5}
% cluster D
\Bip{q1,q2,q3,q4,q6,q7,q8,q9,q10,q11}{q12,q13,q14,q15,q16,q17,q18,q19,q20,q21}
\Bip{q12,q14,q16,q19,q20}{q22,q23,q24,q25,q17,q18}
\StT{t24}{q3,q4}
\StT{t26}{q4,q2}
\Sta{t26}{q4,q5,q12,q14,q3}
\Sta{t24}{q2,q5,q12}
\Sta{t21}{q3,q2,q3,q1,q6}
\Sta{q13}{q4,q12,q21}
\end{scope}
% ---------- labels
\node[txt] (lNO) at (234,-158) {NO\raisebox{-4pt}{3}\raisebox{5.5pt}{-}};
\node[txt] (lNH) at (383,-309) {NH\raisebox{-3pt}{4}\raisebox{6.5pt}{+}};
\node[txt,font=\fontsize{16.5}{18}\selectfont\itshape] (lNit) at (35.5,-327) {Nitrosospira sp.};
\node[txt] (lAOB) at (164,-406) {AOB/16S};
\node[txt] (lpH) at (159,-507) {pH};
\node[txt] (lnirS) at (297.5,-507) {nirS/16S};
\node[txt] (lITS) at (524,-205) {ITS};
\node[txt] (l16S) at (614.5,-172.5) {16S};
\node[txt] (lnirK) at (695,-271) {nirK/16S};
\node[txt] (lGal) at (696,-384) {Gallic acid};
\node[txt] (lAla) at (747,-483) {Alanine};
\node[txt] (lnifH) at (1262,-608) {nifH/16S};
\node[txt,anchor=base east,font=\fontsize{16.5}{18}\selectfont\bfseries] (ltitle) at (1878,-15) {(OTU-258 relative abundance)};
% ---------- left legend
\foreach \nm/\cc/\yc/\yb/\tx in {%
 L1/Ac/738/747/Acidobacteriia,L2/At/776/788/Actinobacteria,L3/Al/815/824/Alphaproteobacteria,L4/Ba/853/865/Bacilli,%
 L5/Bd/892/903/Bacteroidia,L6/Ch/930/942/Chloroflexia,L7/Cl/969/980.5/Clostridia,L8/De/1007/1019.5/Deltaproteobacteria,%
 L9/Ga/1046/1058/Gammaproteobacteria,L10/Ge/1084/1096/Gemmatimonadetes,L11/Lo/1122/1134.5/Longimicrobia,L12/Pl/1161/1173.5/Planctomycetacia,%
 L13/Sa/1199.5/1212/Saccharimonadia,L14/Ve/1238/1250.5/Verrucomicrobia,L15/Ot/1276/1288.5/Others,L16/Un/1315/1327.5/Unknown}{%
 \node[leg,fill=c\cc] (\nm) at (19.5,-\yc) {};
 \node[txt] (\nm t) at (44,-\yb) {\tx};
}
% ---------- right legend
\node[key,isosceles triangle,isosceles triangle apex angle=55,shape border rotate=90,minimum height=15.5pt] (kT) at (1344,-1083) {};
\node[key,rectangle,rounded corners=2.5pt,minimum size=16pt] (kS) at (1344,-1121) {};
\node[key,diamond,aspect=1,minimum size=16.5pt] (kD) at (1344,-1163) {};
\node[key,regular polygon,regular polygon sides=6,minimum size=16.5pt] (kH) at (1344,-1204.5) {};
\node[key,circle,minimum size=15pt] (kC) at (1344,-1243) {};
\fill[edgeP] (1320.5,-1273) rectangle (1367.5,-1283);
\fill[edgeN] (1320.5,-1312) rectangle (1367.5,-1320);
\node[txt] (t1x) at (1373,-1087.5) {N-cycling activities};
\node[txt] (t2x) at (1373,-1129.5) {Microcosm soil pH};
\node[txt] (t3x) at (1374.5,-1171) {Abundance of microbial groups};
\node[txt] (t4x) at (1374,-1212.5) {Soil respiration rate};
\node[txt] (t5x) at (1374,-1254) {OTU};
\node[txt] (t6x) at (1377,-1289.5) {Positive correlation};
\node[txt] (t7x) at (1377,-1324.5) {Negative correlation};
\end{tikzpicture}
\end{document}
